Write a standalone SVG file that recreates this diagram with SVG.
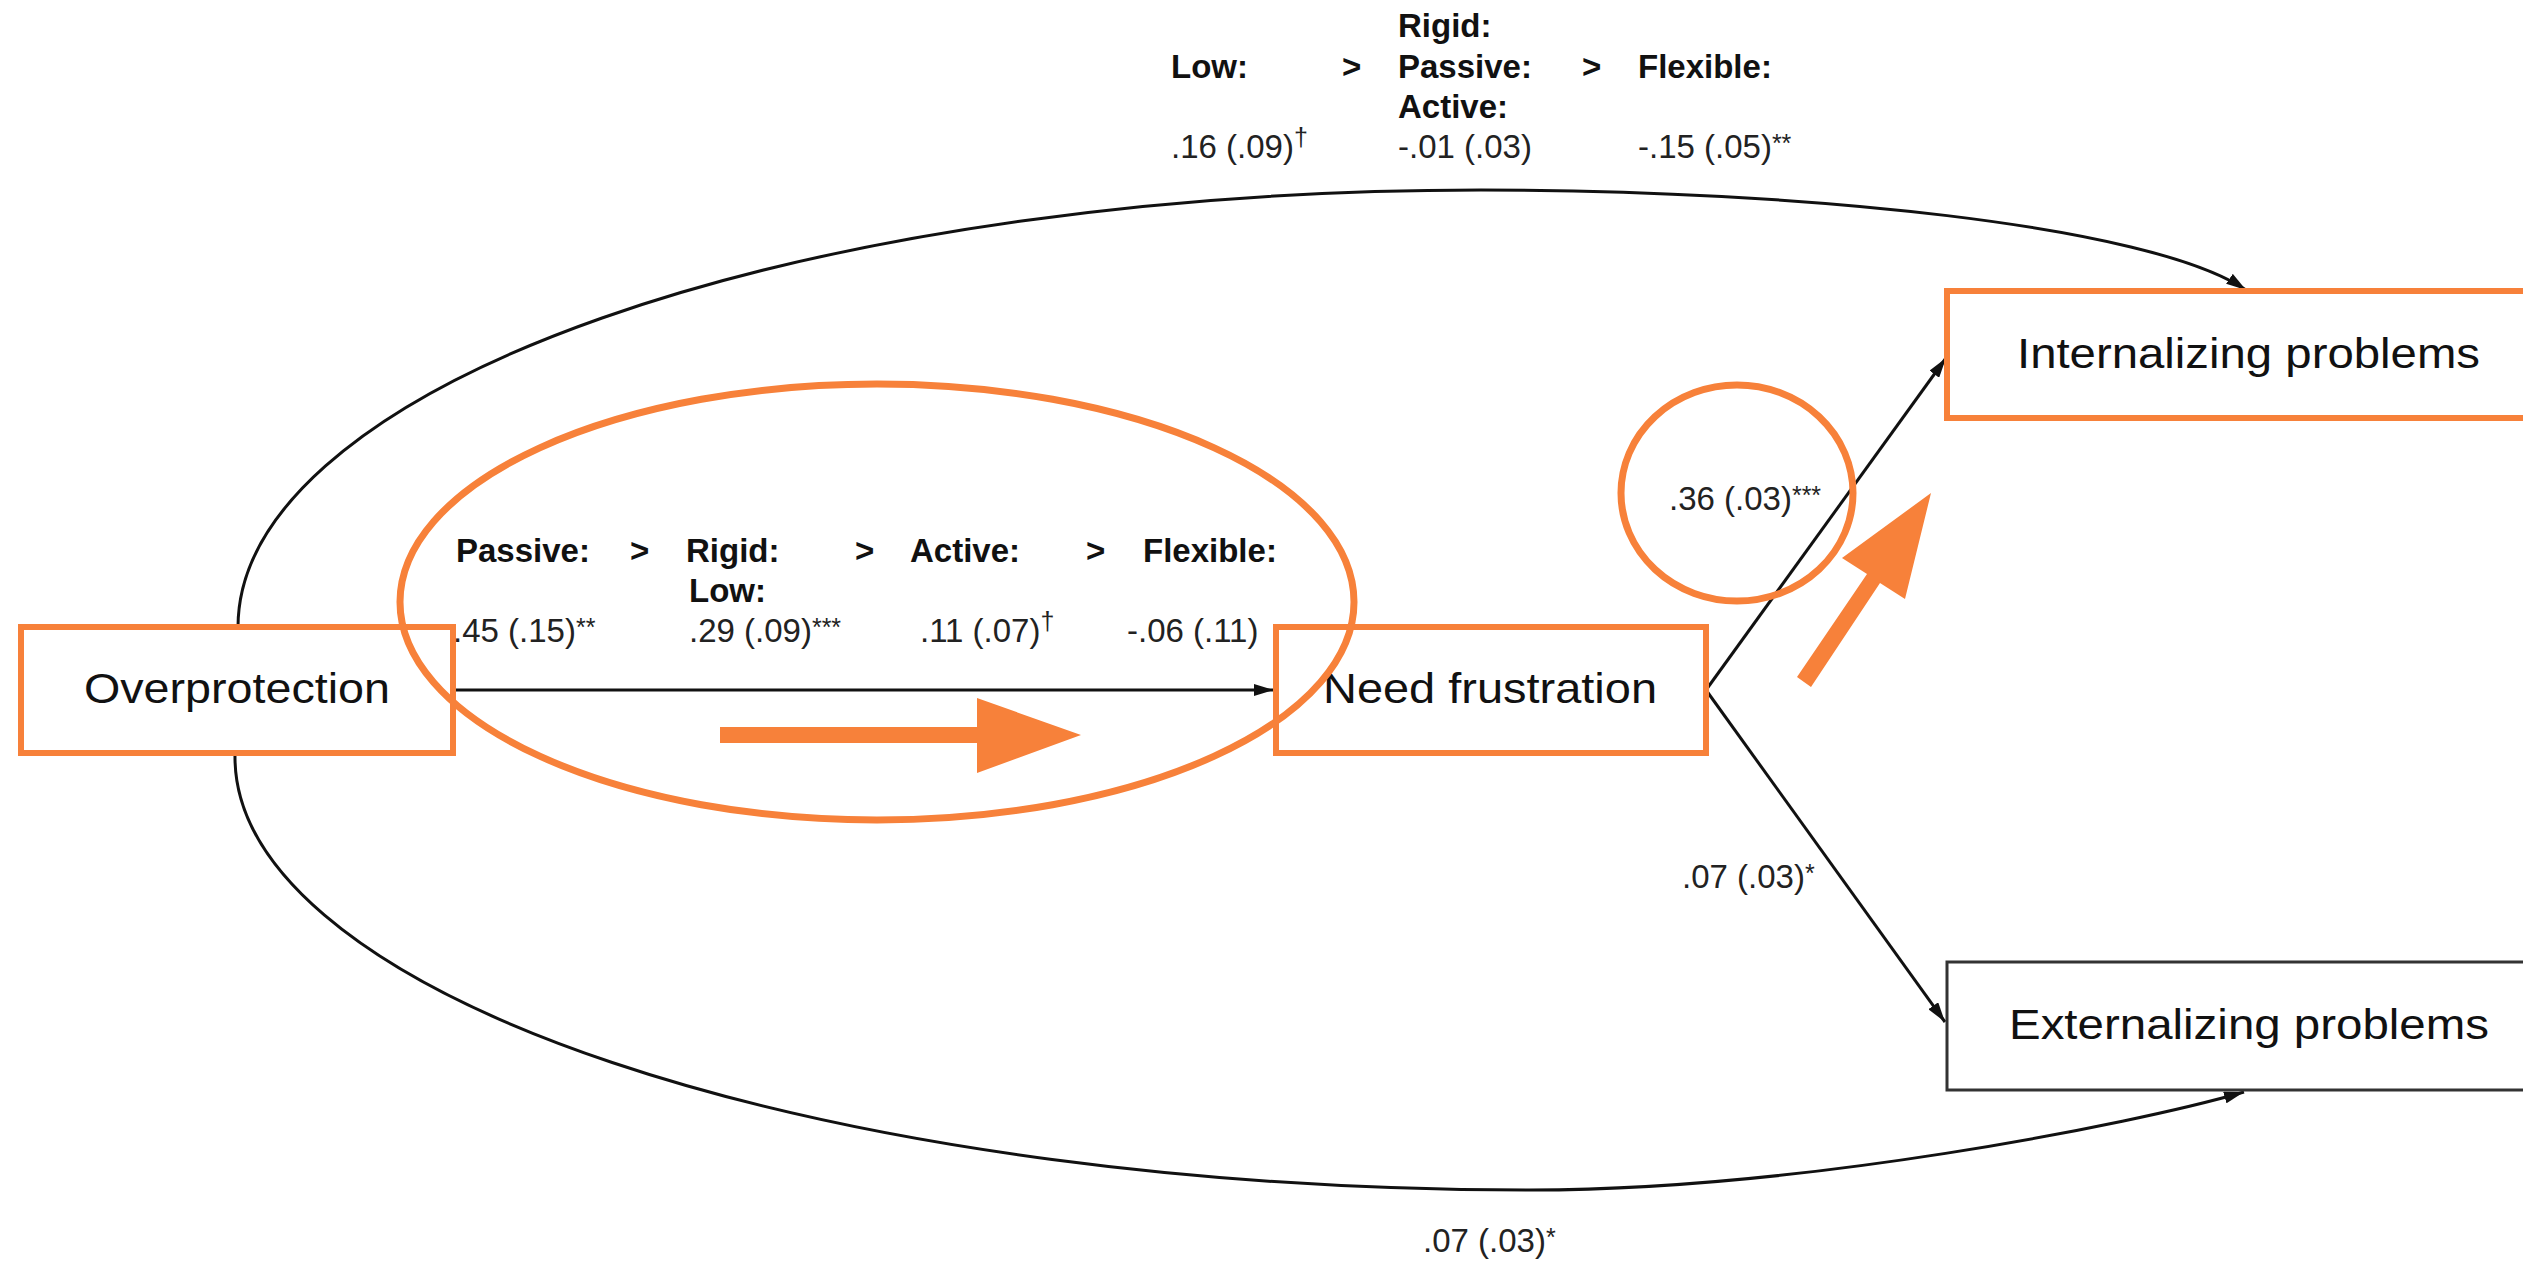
<svg xmlns="http://www.w3.org/2000/svg" width="2523" height="1261" viewBox="0 0 2523 1261">
  <defs>
    <marker id="arrow" markerUnits="userSpaceOnUse" markerWidth="21" markerHeight="12" refX="20" refY="6" orient="auto">
      <path d="M0,0 L20,6 L0,12 Z" fill="#111"/>
    </marker>
    <style>
      .node-text { font-family: "Liberation Sans", Arial, sans-serif; font-size: 43px; fill: #111; }
      .hdr { font-family: "Liberation Sans", Arial, sans-serif; font-size: 33px; font-weight: bold; fill: #111; }
      .val { font-family: "Liberation Sans", Arial, sans-serif; font-size: 33px; fill: #222; }
      .sup { font-size: 25px; }
      .box-hi { fill: #fff; stroke: #f7813a; stroke-width: 6; }
      .box { fill: #fff; stroke: #333; stroke-width: 3; }
      .edge { fill: none; stroke: #111; stroke-width: 3; marker-end: url(#arrow); }
      .mark { fill: none; stroke: #f7813a; stroke-width: 7; }
      .mark-fill { fill: #f7813a; stroke: none; }
    </style>
  </defs>

  <rect width="2523" height="1261" fill="#fff"/>

  <!-- connectors -->
  <g id="connectors">
    <path class="edge" d="M238,627 A1243,437 0 0 1 1481,190 C1800,190 2150,225 2246,290"/>
    <path class="edge" d="M235,755 A1295,433 0 0 0 1530,1190 C1800,1190 2130,1125 2244,1092"/>
    <path class="edge" d="M453,690 L1274,690"/>
    <path class="edge" d="M1706,690 L1946,358"/>
    <path class="edge" d="M1706,690 L1945,1022"/>
  </g>

  <!-- nodes -->
  <g id="node-overprotection">
    <rect class="box-hi" x="21" y="627" width="432" height="126"/>
    <text class="node-text" x="84" y="703" textLength="306" lengthAdjust="spacingAndGlyphs">Overprotection</text>
  </g>
  <g id="node-need-frustration">
    <rect class="box-hi" x="1276" y="627" width="430" height="126"/>
    <text class="node-text" x="1323" y="703" textLength="334" lengthAdjust="spacingAndGlyphs">Need frustration</text>
  </g>
  <g id="node-internalizing">
    <rect class="box-hi" x="1947" y="291" width="700" height="127"/>
    <text class="node-text" x="2017" y="368" textLength="463" lengthAdjust="spacingAndGlyphs">Internalizing problems</text>
  </g>
  <g id="node-externalizing">
    <rect class="box" x="1947" y="962" width="700" height="128"/>
    <text class="node-text" x="2009" y="1039" textLength="480" lengthAdjust="spacingAndGlyphs">Externalizing problems</text>
  </g>

  <!-- labels on the direct path to internalizing problems -->
  <g id="label-top">
    <text class="hdr" x="1171" y="78">Low:</text>
    <text class="hdr" x="1342" y="78">&gt;</text>
    <text class="hdr" x="1398" y="37">Rigid:</text>
    <text class="hdr" x="1398" y="78">Passive:</text>
    <text class="hdr" x="1398" y="118">Active:</text>
    <text class="hdr" x="1582" y="78">&gt;</text>
    <text class="hdr" x="1638" y="78">Flexible:</text>
    <text class="val" x="1171" y="158">.16 (.09)<tspan class="sup" font-size="20" dy="-12">†</tspan></text>
    <text class="val" x="1398" y="158">-.01 (.03)</text>
    <text class="val" x="1638" y="158">-.15 (.05)<tspan class="sup" dy="-6">**</tspan></text>
  </g>

  <!-- labels on overprotection to need frustration -->
  <g id="label-middle">
    <text class="hdr" x="456" y="562">Passive:</text>
    <text class="hdr" x="630" y="562">&gt;</text>
    <text class="hdr" x="686" y="562">Rigid:</text>
    <text class="hdr" x="689" y="602">Low:</text>
    <text class="hdr" x="855" y="562">&gt;</text>
    <text class="hdr" x="910" y="562">Active:</text>
    <text class="hdr" x="1086" y="562">&gt;</text>
    <text class="hdr" x="1143" y="562">Flexible:</text>
    <text class="val" x="453" y="642">.45 (.15)<tspan class="sup" dy="-6">**</tspan></text>
    <text class="val" x="689" y="642">.29 (.09)<tspan class="sup" dy="-6">***</tspan></text>
    <text class="val" x="920" y="642">.11 (.07)<tspan class="sup" font-size="20" dy="-12">†</tspan></text>
    <text class="val" x="1127" y="642">-.06 (.11)</text>
  </g>

  <g id="label-edges">
    <text class="val" x="1669" y="510">.36 (.03)<tspan class="sup" dy="-6">***</tspan></text>
    <text class="val" x="1682" y="888">.07 (.03)<tspan class="sup" dy="-6">*</tspan></text>
    <text class="val" x="1423" y="1252">.07 (.03)<tspan class="sup" dy="-6">*</tspan></text>
  </g>

  <!-- highlight marks -->
  <g id="highlights">
    <ellipse class="mark" cx="877" cy="602" rx="477" ry="218"/>
    <ellipse class="mark" cx="1737" cy="493" rx="116" ry="108"/>
    <polygon class="mark-fill" points="720,727 977,727 977,698 1081,735 977,773 977,743 720,743"/>
    <polygon class="mark-fill" points="1797,677 1867,574 1842,558 1931,493 1905,599 1880,583 1811,687"/>
  </g>
</svg>
